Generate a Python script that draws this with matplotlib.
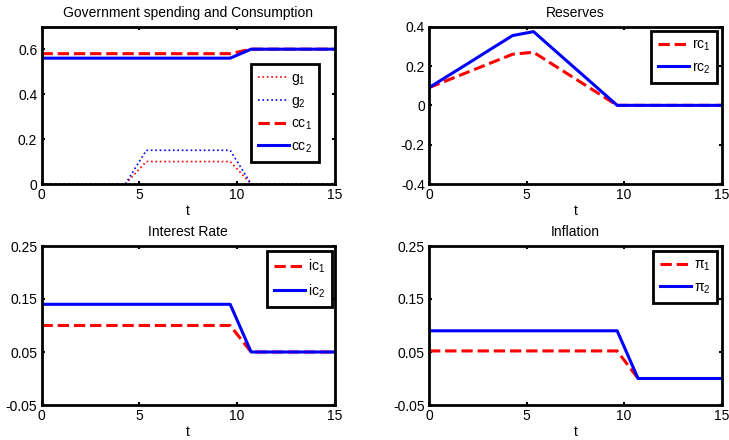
import matplotlib
matplotlib.use("Agg")
import matplotlib.pyplot as plt
import numpy as np
from matplotlib.ticker import FormatStrFormatter

plt.rcParams['font.family'] = ['Liberation Sans', 'DejaVu Sans']
plt.rcParams['mathtext.fontset'] = 'custom'
plt.rcParams['mathtext.rm'] = 'Liberation Sans'
plt.rcParams['mathtext.it'] = 'Liberation Sans:italic'
plt.rcParams['axes.unicode_minus'] = False

# time grid: 15 points on [0, 15]
t = np.linspace(0, 15, 15)

g1 = [0, 0, 0, 0, 0, 0.10, 0.10, 0.10, 0.10, 0.10, 0, 0, 0, 0, 0]
g2 = [0, 0, 0, 0, 0, 0.15, 0.15, 0.15, 0.15, 0.15, 0, 0, 0, 0, 0]
cc1 = [0.58] * 10 + [0.60] * 5
cc2 = [0.56] * 10 + [0.60] * 5

rc1 = [0.09, 0.1325, 0.175, 0.2175, 0.26, 0.27, 0.2025, 0.135, 0.0675, 0,
       0, 0, 0, 0, 0]
rc2 = [0.09, 0.156, 0.222, 0.289, 0.355, 0.375, 0.281, 0.1875, 0.094, 0,
       0, 0, 0, 0, 0]

ic1 = [0.10] * 10 + [0.05] * 5
ic2 = [0.14] * 10 + [0.05] * 5

pi1 = [0.052] * 10 + [0.0] * 5
pi2 = [0.09] * 10 + [0.0] * 5

fig = plt.figure(figsize=(7.29, 4.40), dpi=100)
W, H = 729.0, 440.0

def make_ax(x0, x1, ytop, ybot):
    return fig.add_axes([x0 / W, 1 - ybot / H, (x1 - x0) / W, (ybot - ytop) / H])

ax1 = make_ax(41.5, 335, 26.7, 184)
ax2 = make_ax(429, 721.7, 26.7, 184)
ax3 = make_ax(41.5, 335, 246, 405)
ax4 = make_ax(429, 721.7, 246, 405)

lw = 2.2

ax1.plot(t, g1, ':', color='red', lw=1.2, label='g$_1$', zorder=1)
ax1.plot(t, g2, ':', color='blue', lw=1.2, label='g$_2$', zorder=1)
ax1.plot(t, cc1, '--', color='red', lw=lw, label='cc$_1$')
ax1.plot(t, cc2, '-', color='blue', lw=lw, label='cc$_2$')
ax1.set_ylim(0, 0.7)
ax1.set_yticks([0, 0.2, 0.4, 0.6])
ax1.set_title('Government spending and Consumption', fontsize=10, pad=7)

ax2.plot(t, rc1, '--', color='red', lw=lw, label='rc$_1$')
ax2.plot(t, rc2, '-', color='blue', lw=lw, label='rc$_2$')
ax2.set_ylim(-0.4, 0.4)
ax2.set_yticks([-0.4, -0.2, 0, 0.2, 0.4])
ax2.set_title('Reserves', fontsize=10, pad=7)

ax3.plot(t, ic1, '--', color='red', lw=lw, label='ic$_1$')
ax3.plot(t, ic2, '-', color='blue', lw=lw, label='ic$_2$')
ax3.set_title('Interest Rate', fontsize=10, pad=7)

ax4.plot(t, pi1, '--', color='red', lw=lw, label='π$_1$')
ax4.plot(t, pi2, '-', color='blue', lw=lw, label='π$_2$')
ax4.set_title('Inflation', fontsize=10, pad=7)

for ax in (ax3, ax4):
    ax.set_ylim(-0.05, 0.25)
    ax.set_yticks([-0.05, 0.05, 0.15, 0.25])

legend_pos = {ax1: (0.946, 0.763), ax2: (0.985, 0.973),
              ax3: (0.989, 0.969), ax4: (0.985, 0.969)}

for ax in (ax1, ax2, ax3, ax4):
    ax.set_xlim(0, 15)
    ax.set_xticks([0, 5, 10, 15])
    ax.yaxis.set_major_formatter(FormatStrFormatter('%g'))
    ax.set_xlabel('t', fontsize=10, labelpad=1)
    ax.tick_params(direction='in', top=True, right=True, labelsize=10,
                   length=2, width=1.5, pad=3)
    for sp in ax.spines.values():
        sp.set_linewidth(2.0)
        sp.set_zorder(5)
    leg = ax.legend(loc='upper right', bbox_to_anchor=legend_pos[ax],
                    fontsize=10, handlelength=2.2, fancybox=False,
                    framealpha=1, borderaxespad=0, labelspacing=0.5,
                    handletextpad=0.2, borderpad=0.5)
    leg.get_frame().set_edgecolor('black')
    leg.get_frame().set_linewidth(2.0)

fig.savefig('out.png', dpi=100)
